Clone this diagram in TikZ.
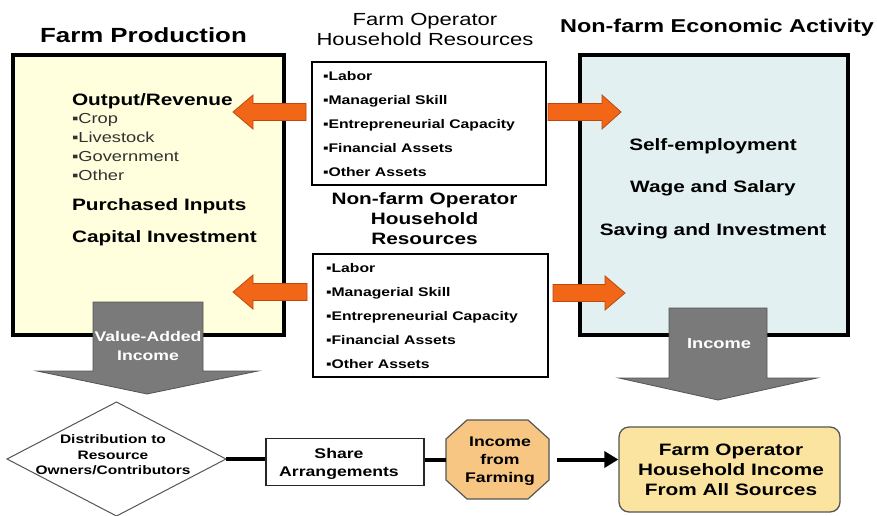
\documentclass[tikz,border=0pt]{standalone}
\usepackage{fontspec}
\setmainfont{Liberation Sans}[FakeStretch=1.26]
\usetikzlibrary{calc,arrows.meta}
\definecolor{farmbg}{RGB}{255,255,221}
\definecolor{nonfarmbg}{RGB}{226,240,242}
\definecolor{orangefill}{RGB}{242,102,24}
\definecolor{orangeedge}{RGB}{190,72,12}
\definecolor{grayfill}{RGB}{122,122,122}
\definecolor{grayedge}{RGB}{85,85,85}
\definecolor{octfill}{RGB}{247,198,130}
\definecolor{finalfill}{RGB}{250,228,160}
\definecolor{subtext}{RGB}{50,50,50}
\newcommand{\fsz}[2]{\fontsize{#1}{#2}\selectfont}
\newcommand{\stack}[2]{\begin{tabular}[t]{@{}#1@{}}#2\end{tabular}}
% orange arrow pointing left: tip x, y, head-base x, tail x
\newcommand{\orangeleft}[4]{\path[orangearrow] (#4,#2-8.5) -- (#3,#2-8.5) -- (#3,#2-17) -- (#1,#2) -- (#3,#2+17) -- (#3,#2+8.5) -- (#4,#2+8.5) -- cycle;}
% orange arrow pointing right: tail x, y, head-base x, tip x
\newcommand{\orangeright}[4]{\path[orangearrow] (#1,#2-8.5) -- (#3,#2-8.5) -- (#3,#2-17) -- (#4,#2) -- (#3,#2+17) -- (#3,#2+8.5) -- (#1,#2+8.5) -- cycle;}
\begin{document}
\begin{tikzpicture}[x=1pt,y=-1pt,
  bigbox/.style={draw=black,line width=3.5pt,inner sep=0,outer sep=0},
  listbox/.style={draw=black,line width=1.8pt,fill=white,inner sep=0,outer sep=0},
  lbl/.style={inner sep=0,outer sep=0,anchor=base},
  lbll/.style={inner sep=0,outer sep=0,anchor=base west},
  orangearrow/.style={fill=orangefill,draw=orangeedge,line width=0.8pt},
  grayarrow/.style={fill=grayfill,draw=grayedge,line width=0.8pt},
  shape0/.style={inner sep=0,outer sep=0},
  link/.style={line width=4pt,black}
]
\useasboundingbox (0,0) rectangle (877,515);
\fill[white] (0,0) rectangle (877,515);

% titles
\node[lbl] (t1) at (143.5,42) {\fsz{20.5}{24}\bfseries Farm Production};
\node[lbl] (t2) at (717,32) {\fsz{18.6}{22}\bfseries Non-farm Economic Activity};
\node[lbl] (t3) at (425,25) {\fsz{17.5}{20}\stack{c}{Farm Operator\\Household Resources}};
\node[lbl] (t4) at (424.5,204) {\fsz{16.5}{20.2}\bfseries\stack{c}{Non-farm Operator\\Household\\Resources}};

% big boxes
\node[bigbox,fill=farmbg,minimum width=271pt,minimum height=280pt] (farm) at (148.5,195) {};
\node[bigbox,fill=nonfarmbg,minimum width=268pt,minimum height=280pt] (nonfarm) at (714,195) {};

% left box text
\node[lbll] (out) at (72,105) {\fsz{16.5}{20}\bfseries Output/Revenue};
\node[lbll,text=subtext] (outl) at (72,123.3) {\fsz{14.5}{18.9}\stack{l}{▪Crop\\▪Livestock\\▪Government\\▪Other}};
\node[lbll] (pin) at (72,210) {\fsz{16.5}{20}\bfseries Purchased Inputs};
\node[lbll] (cin) at (72,242) {\fsz{16.5}{20}\bfseries Capital Investment};

% right box text
\node[lbl] (nfl) at (713,150.7) {\fsz{16.5}{42.2}\bfseries\stack{c}{Self-employment\\Wage and Salary\\Saving and Investment}};

% middle list boxes
\node[listbox,minimum width=234pt,minimum height=123pt] (fres) at (429,123.5) {};
\node[lbll] (fresl) at (323,80) {\fsz{12.5}{24}\bfseries\stack{l}{▪Labor\\▪Managerial Skill\\▪Entrepreneurial Capacity\\▪Financial Assets\\▪Other Assets}};
\node[listbox,minimum width=235pt,minimum height=123pt] (nres) at (430.5,315.5) {};
\node[lbll] (nresl) at (326,272.3) {\fsz{12.5}{24}\bfseries\stack{l}{▪Labor\\▪Managerial Skill\\▪Entrepreneurial Capacity\\▪Financial Assets\\▪Other Assets}};

% orange arrows
\orangeleft{233}{112}{253}{306}
\orangeleft{233}{292}{253}{307}
\orangeright{548}{112}{602}{621}
\orangeright{553}{293}{605}{625}

% gray arrows
\path[grayarrow] (93,302) -- (203,302) -- (203,371) -- (258,371) -- (147,394) -- (37,371) -- (93,371) -- cycle;
\node[lbl,text=white] (vai) at (148,341.7) {\fsz{14}{18.3}\bfseries\stack{c}{Value-Added\\Income}};
\path[grayarrow] (669,308) -- (767,308) -- (767,378) -- (817,378) -- (718,400) -- (619,378) -- (669,378) -- cycle;
\node[lbl,text=white] (inc) at (719,348) {\fsz{14.5}{18}\bfseries Income};

% bottom row
\node[shape0,minimum width=219pt,minimum height=114pt] (dist) at (116.5,459) {};
\draw[fill=white,draw=grayedge,line width=1pt] (dist.west) -- (dist.north) -- (dist.east) -- (dist.south) -- cycle;
\node[lbl] (distl) at (113,443.3) {\fsz{12.3}{15.8}\bfseries\stack{c}{Distribution to\\Resource\\Owners/Contributors}};

\node[draw=black!85,line width=1.3pt,fill=white,minimum width=158pt,minimum height=47pt,inner sep=0] (share) at (345,462) {};
\node[lbl] (sharel) at (339,458.3) {\fsz{14}{18.4}\bfseries\stack{c}{Share\\Arrangements}};

\node[shape0,minimum width=103pt,minimum height=79pt] (oct) at (497.5,459.5) {};
\draw[fill=octfill,draw=grayedge,line width=1.2pt]
  ($(oct.north west)+(21,0)$) -- ($(oct.north east)+(-21,0)$) -- ($(oct.north east)+(0,19)$) -- ($(oct.south east)+(0,-19)$)
  -- ($(oct.south east)+(-21,0)$) -- ($(oct.south west)+(21,0)$) -- ($(oct.south west)+(0,-19)$) -- ($(oct.north west)+(0,19)$) -- cycle;
\node[lbl] (octl) at (500,446) {\fsz{14}{18}\bfseries\stack{c}{Income\\from\\Farming}};

\node[draw=grayedge,line width=1.3pt,fill=finalfill,rounded corners=10pt,minimum width=221pt,minimum height=85pt,inner sep=0] (final) at (729.5,469.5) {};
\node[lbl] (finall) at (731,455) {\fsz{16.5}{20}\bfseries\stack{c}{Farm Operator\\Household Income\\From All Sources}};

\draw[link] (dist.east) -- (dist.east -| share.west);
\draw[link] (share.east |- oct.west) -- (oct.west);
\draw[link,-{Triangle[length=14pt,width=16pt]}] ([xshift=8pt]oct.east) -- (oct.east -| final.west);
\end{tikzpicture}
\end{document}
